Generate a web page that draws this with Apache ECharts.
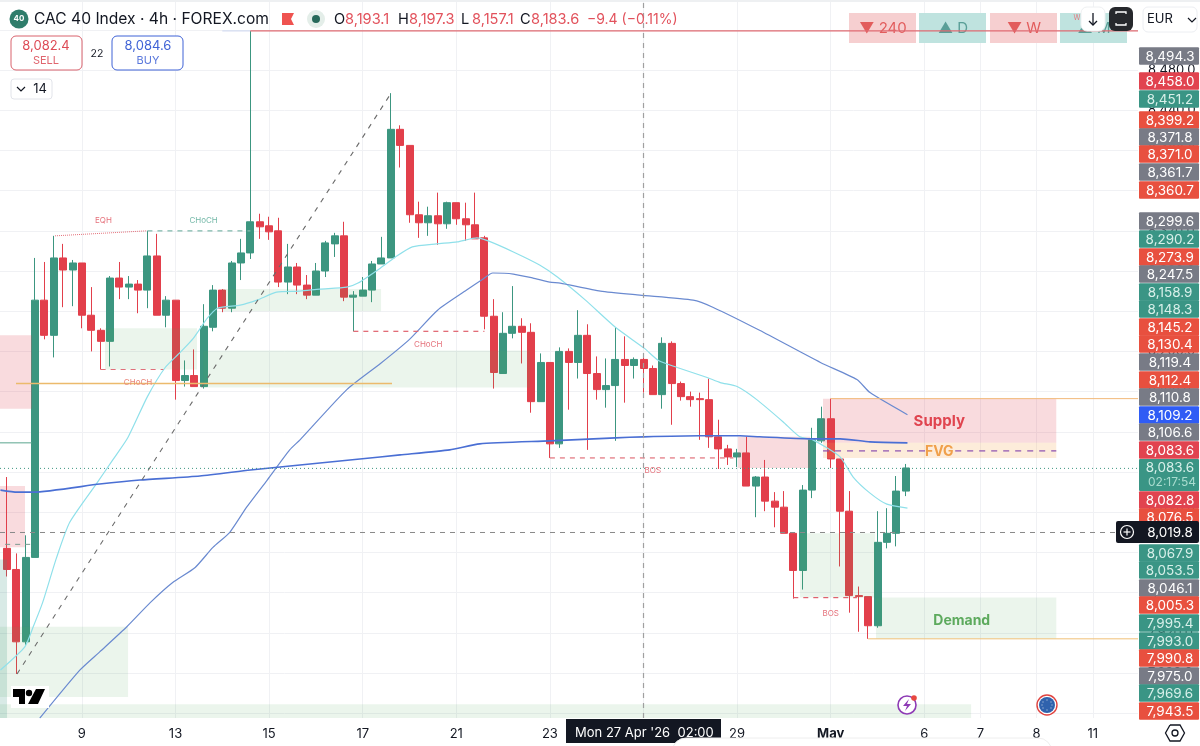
<!DOCTYPE html>
<html>
<head>
<meta charset="utf-8">
<title>CAC 40 Index</title>
<style>html,body{margin:0;padding:0;background:#fff;overflow:hidden}#c{width:1200px;height:746px}</style>
<script src="https://cdn.jsdelivr.net/npm/echarts@6/dist/echarts.min.js"></script>
</head>
<body>
<div id="c"></div>
<script>
// ---------- candles ----------
const opens = [8004,7983,7911,7995,8251,8216,8293,8281,8288,8236,8221,8210,8273,8264,8267,8261,8295,8236,8251,8171,8176,8165,8224,8261,8243,8288,8298,8329,8325,8320,8269,8284,8266,8256,8280,8307,8315,8254,8255,8261,8287,8293,8421,8405,8336,8328,8335,8327,8348,8332,8326,8313,8235,8178,8218,8225,8219,8150,8189,8108,8200,8189,8216,8178,8162,8166,8192,8186,8192,8183,8157,8208,8168,8155,8153,8152,8115,8103,8095,8099,8066,8075,8051,8045,8019,7982,8062,8111,8133,8093,8041,7957,7956,7927,8010,8019,8061];
const closes = [7983,7911,7995,8251,8216,8293,8281,8288,8236,8221,8210,8273,8264,8267,8261,8295,8236,8251,8171,8176,8165,8225,8261,8243,8288,8298,8329,8324,8319,8269,8284,8266,8256,8280,8308,8315,8254,8256,8261,8287,8293,8421,8405,8336,8328,8335,8327,8348,8332,8326,8312,8235,8179,8218,8225,8219,8150,8189,8108,8200,8189,8216,8178,8162,8166,8192,8186,8192,8183,8157,8208,8168,8155,8152,8152,8115,8103,8095,8099,8066,8075,8051,8045,8019,7982,8062,8112,8133,8093,8041,7957,7956,7927,8010,8019,8061,8084];
const highs = [8075,7999,8017,8293,8289,8315,8307,8291,8288,8264,8223,8275,8289,8275,8271,8320,8317,8255,8251,8191,8202,8247,8266,8262,8290,8312,8519,8337,8334,8333,8307,8288,8276,8288,8310,8318,8329,8260,8274,8290,8314,8457,8425,8405,8349,8344,8358,8349,8348,8348,8358,8315,8252,8239,8265,8233,8228,8198,8189,8204,8203,8241,8227,8195,8193,8224,8215,8194,8196,8186,8214,8210,8170,8160,8159,8173,8132,8107,8103,8115,8076,8092,8060,8061,8019,8067,8124,8145,8153,8093,8061,7966,7956,8041,8044,8076,8088];
const lows = [7976,7879,7908,7995,8212,8194,8244,8245,8223,8200,8182,8185,8252,8252,8238,8243,8236,8224,8152,8165,8165,8163,8220,8239,8239,8271,8292,8312,8311,8264,8257,8257,8252,8256,8274,8294,8250,8220,8255,8249,8287,8293,8383,8328,8313,8315,8306,8322,8326,8310,8312,8222,8163,8178,8213,8188,8139,8150,8094,8104,8142,8173,8102,8152,8144,8111,8149,8173,8159,8157,8143,8127,8151,8145,8112,8104,8083,8087,8085,8066,8035,8041,8025,8019,7954,7963,8054,8109,8084,7986,7940,7921,7914,7925,8004,8006,8056];

// ---------- moving averages: [bar, price] ----------
const emaLight = [[-0.7,7883],[1.9,7906],[2.8,7926],[3.8,7950],[5.3,7995],[6.7,8030],[9.6,8069],[11.3,8092],[12.9,8114],[15,8155],[16.9,8184],[18.5,8199],[19.9,8213],[21.4,8233],[22.5,8243],[24.9,8246],[26.7,8251],[28.8,8259],[31.3,8260],[33.4,8262],[36.3,8264],[37.5,8268],[39.9,8283],[41.5,8294],[43.3,8304],[45.9,8307],[48.1,8309],[50.2,8313],[51.4,8310],[54.1,8299],[56.9,8286],[58.8,8274],[61.8,8251],[65,8224],[68.1,8203],[69.6,8191],[71.6,8184],[74.8,8174],[76.2,8169],[78,8165],[80.1,8152],[82.9,8130],[84.7,8115],[86.1,8112],[89,8095],[90.4,8075],[92.2,8059],[94,8048],[96.2,8044]];
const emaMid = [[3.5,7835],[7.8,7883],[9.9,7901],[12.8,7926],[15.3,7950],[17.7,7970],[20.1,7985],[22,8005],[23.8,8020],[25.6,8045],[27.8,8072],[30.2,8102],[31.3,8112],[36.3,8162],[39.9,8188],[43,8212],[46,8241],[49.1,8261],[50.7,8271],[51.9,8278],[54.1,8277],[56.2,8273],[58,8269],[59.1,8268],[63.4,8260],[67.6,8256],[73.3,8251],[75.4,8244],[80.4,8221],[86.9,8189],[90.8,8172],[92.2,8159],[96.2,8137]];
const emaSlow = [[-0.7,8062],[1.1,8060],[2.8,8060],[9.9,8068],[14.2,8072],[20.6,8076],[26,8082],[31.3,8087],[37.7,8093],[42,8097],[47.3,8102],[50.5,8108],[58,8111],[65,8114],[68,8115],[74,8116],[78.3,8116],[80.4,8115],[85.8,8113],[89,8113],[92.2,8110],[96.2,8109]];

// ---------- zones: [barFrom, barTo, priceTop, priceBottom] ----------
const demandZones = [[-0.75,12.93,7926,7856],[-0.75,103,7849,7835.2],[10.47,20.3,8223,8182],[20.94,55.88,8201,8164],[22.97,39.96,8262,8240],[84.72,92.74,8019,7955],[92.84,112.1,7955,7914]];
const tealZones = [[-0.75,0,7993,7835.2]];
const supplyZones = [[-0.75,2.67,8216,8143],[-0.75,1.92,8066,8005],[87.18,112.1,8153,8109],[78.1,85.8,8115,8084]];
const fvgZones = [[87.18,112.1,8109,8094]];

// ---------- drawn lines ----------
const spikeLine = [[26,8519],[120.83,8519]];
const spikeLead = [[23,8519],[26,8519]];
const pocLine = [[0.96,8168],[41.13,8168]];
const eqhLine = [[5.13,8315],[14.96,8320]];
const chochUp = [[15,8320],[26,8320]];
const chochDown1 = [[10,8182],[16.7,8182]];
const chochDown2 = [[37,8220],[51,8220]];
const bosLine1 = [[58,8094],[77.6,8094]];
const bosLine2 = [[84,7955],[90.8,7955]];
const leftSolid = [[-0.75,8109],[2.67,8109]];
const leftDash = [[-0.2,8008],[2.67,8008]];
const fvgMidLeft = [[87.18,8101],[98.1,8101]];
const fvgMidRight = [[101.3,8101],[112.1,8101]];
const swingDiagonal = [[1.07,7879],[41.03,8457]];
const supplyTop = [[88,8153],[120.83,8153]];
const demandBottom = [[92,7914],[120.83,7914]];
const lastPrice = [[-0.75,8083.6],[120.83,8083.6]];
const crossH = [[-0.75,8019.8],[118.4,8019.8]];
const crossV = [[68,7835.2],[68,8547.7]];

// ---------- text on the chart ----------
const notes = [
  [10.3,8330,'EQH','#e5727c',8,'normal'],
  [21,8330,'CHoCH','#74b8a8',8,'normal'],
  [14,8169,'CHoCH','#e8857a',8,'normal'],
  [45,8207,'CHoCH','#e5727c',8,'normal'],
  [69,8081,'BOS','#e5727c',8,'normal'],
  [88,7939,'BOS','#e5727c',8,'normal'],
  [99.6,8130,'Supply','#e0444f',15,'bold'],
  [99.6,8100,'FVG','#f0a04b',14,'bold'],
  [102,7932,'Demand','#5daa5d',14,'bold']
];

// ---------- axis labels ----------
const dateTicks = [8,18,28,38,48,58,78,88,98,104,110,116];
const dateLabels = ['9','13','15','17','21','23','29','May','6','7','8','11'];
const gridTicks = [8,18,28,38,48,58,68,78,88,98,104,110,116];
const priceGrid = [7840,7880,7920,7960,8000,8040,8080,8120,8160,8200,8240,8280,8320,8360,8400,8440,8480,8520];
const priceLabels = [7840,7880,7920,7960,8000,8040,8080,8120,8160,8200,8240,8280,8320,8360,8400,8440,8480];

// ---------- price tags on the right ----------
const tagTexts = ['8,494.3','8,458.0','8,451.2','8,399.2','8,371.8','8,371.0','8,361.7','8,360.7','8,299.6','8,290.2','8,273.9','8,247.5','8,158.9','8,148.3','8,145.2','8,130.4','8,119.4','8,112.4','8,110.8','8,109.2','8,106.6','8,083.6','8,082.8','8,076.5','8,067.9','8,053.5','8,046.1','8,005.3','7,995.4','7,993.0','7,990.8','7,975.0','7,969.6','7,943.5'];
const tagKinds = ['g','c','t','o','g','o','g','o','g','t','o','g','t','t','o','o','g','o','g','b','g','c','c','o','t','t','g','o','t','t','o','g','t','o'];
const tagCentres = [56,81,99,120,137,154,172,190,221,239,257,274,292,309,327,344,362,380,397,415,432,450,500,517,553,570,588,605,623,641,658,676,693,711];
const tagColours = {g:'#787b86',c:'#e1434f',t:'#3a9585',o:'#e8503f',b:'#2f5cf5'};

const headerOHLC = [['O','8,193.1',334],['H','8,197.3',398],['L','8,157.1',461],['C','8,183.6',520]];
const trendBoxes = [['▼ 240',849,'r'],['▲ D',919,'t'],['▼ W',990,'r'],['▲ M',1060,'t']];

const GREEN = '#3c9680', RED = '#e23f4b', FONT = 'Inter, "Noto Sans", sans-serif';

function lineS(data, color, width, type, z, smooth) {
  return {type:'line', data, symbol:'none', silent:true, z:z||4, smooth:smooth||false,
    lineStyle:{color, width, type:type||'solid'}, animation:false};
}
function zoneData(list, fill) {
  return list.map(a => [{coord:[a[0],a[2]], itemStyle:{color:fill}}, {coord:[a[1],a[3]]}]);
}

const series = [
  {type:'candlestick', z:3, barWidth:7.5, animation:false, silent:true,
   encode:{x:0,y:[1,2,3,4]},
   data: opens.map((o,i)=>[i,o,closes[i],lows[i],highs[i]]),
   itemStyle:{color:GREEN,color0:RED,borderColor:GREEN,borderColor0:RED,borderWidth:1}},
  {type:'line', data:[], z:4, silent:true, animation:false, markArea:{silent:true, label:{show:false}, z:4, data:[
    ...zoneData(demandZones,'rgba(76,165,90,0.115)'),
    ...zoneData(tealZones,'rgba(60,150,128,0.2)'),
    ...zoneData(supplyZones,'rgba(224,66,79,0.19)'),
    ...zoneData(fvgZones,'rgba(245,160,70,0.2)')
  ]}},
  lineS(emaLight,'#8fe0ea',1.2,'solid',4,0.2),
  lineS(emaMid,'#6a8ad0',1.2,'solid',4,0.2),
  lineS(emaSlow,'#4a6fd4',1.6,'solid',4,0.2),
  lineS(spikeLine,'#df6a72',1.2,'solid',5),
  lineS(spikeLead,'#d5dcf2',1.2),
  lineS(pocLine,'#ecba6c',1.6,'solid',5),
  lineS(eqhLine,'#e5727c',1,'dotted'),
  lineS(chochUp,'#7fb8aa',1.2,[5,5]),
  lineS(chochDown1,'#e0707a',1.2,[5,5]),
  lineS(chochDown2,'#e0606c',1.2,[5,5]),
  lineS(bosLine1,'#e0707a',1.2,[5,5]),
  lineS(bosLine2,'#e0606c',1.2,[5,5]),
  lineS(leftSolid,'#5aa58f',1),
  lineS(leftDash,'#7a9a90',1,[5,5]),
  lineS(fvgMidLeft,'#8a4fb0',1.2,[6,6],5),
  lineS(fvgMidRight,'#8a4fb0',1.2,[6,6],5),
  lineS(swingDiagonal,'#6a6a6a',1.1,[5,6]),
  lineS(supplyTop,'#f2b878',1),
  lineS(demandBottom,'#f0c078',1),
  lineS(lastPrice,'#3c9680',1,[1,3]),
  lineS(crossH,'#8a8a8a',1,[5,5],6),
  lineS(crossV,'#a0a0a0',1.2,[5,5],6),
  {type:'scatter', z:7, silent:true, animation:false, symbol:'circle', symbolSize:1,
   itemStyle:{color:'transparent',opacity:1},
   data: notes.map(n=>({value:[n[0],n[1]],
     label:{show:true,opacity:1,position:'inside',formatter:n[2],color:n[3],fontSize:n[4],fontWeight:n[5],fontFamily:FONT}}))}
];

// ---------- page chrome ----------
const g = [];
const text = (s,x,y,fill,size,o) => g.push(Object.assign({type:'text',z:20,x,y,silent:true,
  style:{text:s,fill,font:`${(o&&o.weight)||'normal'} ${size}px ${FONT}`,textAlign:(o&&o.align)||'left',textVerticalAlign:'middle'}},o&&o.extra));
const rect = (x,y,w,h,fill,stroke,r,z) => g.push({type:'rect',z:z||20,silent:true,shape:{x,y,width:w,height:h,r:r||0},style:{fill,stroke:stroke||null,lineWidth:1}});
const circle = (cx,cy,r,fill,stroke,lw,z) => g.push({type:'circle',z:z||20,silent:true,shape:{cx,cy,r},style:{fill:fill||'transparent',stroke:stroke||null,lineWidth:lw||1}});
const poly = (pts,fill,z) => g.push({type:'polygon',z:z||20,silent:true,shape:{points:pts},style:{fill}});
const pline = (pts,stroke,lw,z) => g.push({type:'polyline',z:z||20,silent:true,shape:{points:pts},style:{stroke,lineWidth:lw,fill:null}});

rect(0,0,1200,2,'#eef0f2');
circle(19,19,9.5,'#2f7d6b');
text('40',19,19,'#fff',8,{align:'center',weight:'bold'});
text('CAC 40 Index · 4h · FOREX.com',34,19.5,'#131722',15.6);
poly([[282,13],[294,13],[291,19],[294,25],[282,25]],'#ef5350');
circle(316,19,9,'#e4eee9');
circle(316,19,4,'#27695a');
headerOHLC.forEach(h=>{
  text(h[0],h[2],19.5,'#131722',14.6);
  text(h[1],h[2]+11,19.5,'#e2525c',14.6);
});
text('−9.4 (−0.11%)',587,19.5,'#e2525c',14);

rect(11,36,71,34,'#fff','#d9626d',5);
text('8,082.4',46,46,'#dd4a55',13,{align:'center'});
text('SELL',46,60.5,'#e0656e',11,{align:'center'});
text('22',97,53.5,'#131722',10.5,{align:'center'});
rect(112,36,71,34,'#fff','#3f62d6',5);
text('8,084.6',148,46,'#3f62d6',13,{align:'center'});
text('BUY',148,60.5,'#5a78dc',11,{align:'center'});
rect(11,79,41,20,'#fff','#e2e4ea',3);
pline([[17,87],[21,91],[25,87]],'#131722',1.2);
text('14',40,89.5,'#131722',13,{align:'center'});

trendBoxes.forEach(b=>{
  const red = b[2]==='r';
  rect(b[1],13,67,30,red?'#f6cfd0':'#bfe3df',null,0,1);
  text(b[0],b[1]+34,28.5,red?'#e25c5c':'#5a9f97',15,{align:'center',extra:{z:1}});
});
text('W',1077,18,'#e07a80',7,{align:'center',extra:{z:1}});

rect(1081,7,24,24,'#fff','#eef0f2',6);
pline([[1093,13],[1093,25]],'#131722',1.3);
pline([[1089,21],[1093,25],[1097,21]],'#131722',1.3);
rect(1109,7,24,24,'#26282c',null,6);
pline([[1116,14],[1116,12],[1126,12],[1126,14]],'#fff',1.3);
pline([[1116,23],[1116,25],[1126,25],[1126,23]],'#fff',1.3);
rect(1143,7,54,25,'#fff','#eceef2',5);
text('EUR',1147,19.5,'#131722',13);
pline([[1188,18],[1192,22],[1196,18]],'#131722',1.2);

tagTexts.forEach((s,i)=>{
  const c = tagCentres[i], k = tagKinds[i];
  rect(1139,c-8.8,60,17.6,tagColours[k],null,1);
  text(s,1170,c+0.5,k==='t'?'#d8f0ea':'#fff',13.5,{align:'center'});
});
rect(1139,459,60,32,tagColours.t,null,1);
text('8,083.6',1170,468,'#d8f0ea',13.5,{align:'center'});
text('02:17:54',1148,482,'#a9dccf',12,{align:'left'});
rect(1116,521,83,22,'#131722',null,2);
circle(1127,532,6.5,null,'#fff',1.2);
pline([[1123.5,532],[1130.5,532]],'#fff',1.2);
pline([[1127,528.5],[1127,535.5]],'#fff',1.2);
text('8,019.8',1170,532.5,'#fff',13.5,{align:'center'});

rect(566,719,155,24,'#131722');
text("Mon 27 Apr '26  02:00",575,733,'#fff',13);
rect(672,738,380,30,'#fff','#eeeeee',14);

rect(11,686,38,22,'#fff');
poly([[13,689],[25,689],[25,704],[19,704],[19,697],[13,697]],'#000');
circle(29,693,3.2,'#000');
poly([[36,689],[45,689],[38,704],[28,704]],'#000');

circle(907,705,9,'#fff','#8e3ab5',1.6);
poly([[909,699],[903,706],[907,706],[905,711],[911,704],[907,704]],'#8e3ab5');
circle(914,698,2.8,'#e8483f');
circle(1047,705,10,'#fff','#e0433f',1.4);
circle(1047,705,8,'#2f62ad');
[[1047,700],[1051,702],[1052,705],[1051,708],[1047,710],[1043,708],[1042,705],[1043,702]].forEach(p=>circle(p[0],p[1],0.7,'#9fb8d8'));

pline([[1170,725],[1180,725],[1184.5,733],[1180,741],[1170,741],[1165.5,733],[1170,725]],'#131722',1.3);
circle(1175,733,3,null,'#131722',1.3);

const chart = echarts.init(document.getElementById('c'), null, {renderer:'canvas'});
chart.setOption({
  animation:false,
  backgroundColor:'#ffffff',
  grid:{left:0,right:62,top:2,bottom:28,containLabel:false},
  tooltip:{show:false},
  xAxis:{type:'value',min:-0.75,max:120.83,
    axisLine:{show:false},
    axisTick:{show:false,customValues:gridTicks},
    splitLine:{show:true,lineStyle:{color:'#f0f1f4',width:1}},
    axisLabel:{customValues:dateTicks,margin:10,color:'#131722',fontSize:13,fontFamily:FONT,
      formatter:v=>{const s=dateLabels[dateTicks.indexOf(v)];return s==='May'?'{b|May}':s;},
      rich:{b:{fontWeight:'bold',fontSize:13,color:'#131722',fontFamily:FONT}}}},
  yAxis:{type:'value',position:'right',min:7835.2,max:8547.7,
    axisLine:{show:false},
    axisTick:{show:false,customValues:priceGrid},
    splitLine:{show:true,lineStyle:{color:'#f0f1f4',width:1}},
    axisLabel:{customValues:priceLabels,margin:10,color:'#131722',fontSize:13,fontFamily:FONT,align:'left',
      formatter:v=>v.toLocaleString('en-US',{minimumFractionDigits:1,maximumFractionDigits:1})}},
  series,
  graphic:{elements:g}
});
</script>
</body>
</html>
